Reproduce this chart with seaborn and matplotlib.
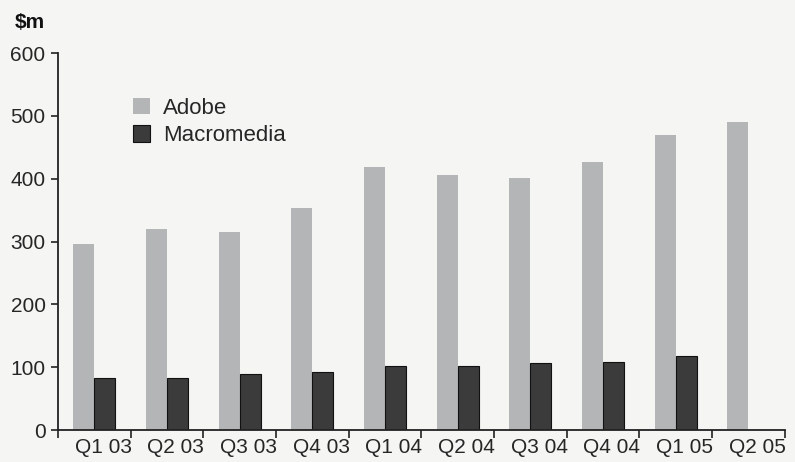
import numpy as np
import pandas as pd
import matplotlib
matplotlib.use('Agg')
import matplotlib.pyplot as plt
import seaborn as sns
from matplotlib.patches import Patch

# values ($m per quarter)
quarters = ['Q1 03', 'Q2 03', 'Q3 03', 'Q4 03', 'Q1 04',
            'Q2 04', 'Q3 04', 'Q4 04', 'Q1 05', 'Q2 05']
adobe = [296, 320, 315, 353, 419, 406, 401, 427, 470, 491]
macromedia = [83, 83, 89, 92, 102, 102, 107, 108, 118, np.nan]

df = pd.DataFrame({
    'Quarter': quarters * 2,
    'Revenue': adobe + macromedia,
    'Company': ['Adobe'] * len(quarters) + ['Macromedia'] * len(quarters),
})

sns.set_style('white')
plt.rcParams['font.family'] = ['Liberation Sans', 'DejaVu Sans']

bg = '#f5f5f3'
fig = plt.figure(figsize=(7.95, 4.62), dpi=100, facecolor=bg)
ax = fig.add_axes([0.073, 0.069, 0.914, 0.816], facecolor=bg)

palette = {'Adobe': '#b3b5b7', 'Macromedia': '#3b3b3b'}
sns.barplot(data=df, x='Quarter', y='Revenue', hue='Company', palette=palette,
            width=0.58, saturation=1, ax=ax, legend=False)

# Macromedia bars get a thin black outline
for bar in ax.containers[1]:
    bar.set_edgecolor('#111111')
    bar.set_linewidth(0.8)
for bar in ax.containers[0]:
    bar.set_linewidth(0)

ax.set_ylim(0, 600)
ax.set_xlim(-0.5, len(quarters) - 0.5)
ax.set_yticks(range(0, 601, 100))
ax.tick_params(axis='y', labelsize=15, length=5, width=1.2, color='#222222',
               left=True, pad=4)

# boundary ticks as major, labels on minor ticks at the centres
ax.set_xticks(np.arange(-0.5, len(quarters), 1.0))
ax.set_xticklabels([])
ax.set_xticks(np.arange(len(quarters)) + 0.12, minor=True)
ax.set_xticklabels(quarters, minor=True)
ax.tick_params(axis='x', which='major', length=6, width=1.2, color='#222222',
               bottom=True, direction='out')
ax.tick_params(axis='x', which='minor', length=0, labelsize=15, pad=6)

ax.set_xlabel('')
ax.set_ylabel('')
sns.despine(ax=ax)
for s in ['left', 'bottom']:
    ax.spines[s].set_color('#222222')
    ax.spines[s].set_linewidth(1.3)

handles = [Patch(facecolor=palette['Adobe'], edgecolor='none', label='Adobe'),
           Patch(facecolor=palette['Macromedia'], edgecolor='#111111',
                 linewidth=0.8, label='Macromedia')]
ax.legend(handles=handles, loc='upper left', bbox_to_anchor=(0.076, 0.935),
          frameon=False, fontsize=16, handlelength=0.75, handleheight=0.75,
          handletextpad=0.6, labelspacing=0.3)

fig.text(0.018, 0.94, '$m', fontsize=15, fontweight='bold', color='#111111')

fig.savefig('out.png', dpi=100, facecolor=bg)
